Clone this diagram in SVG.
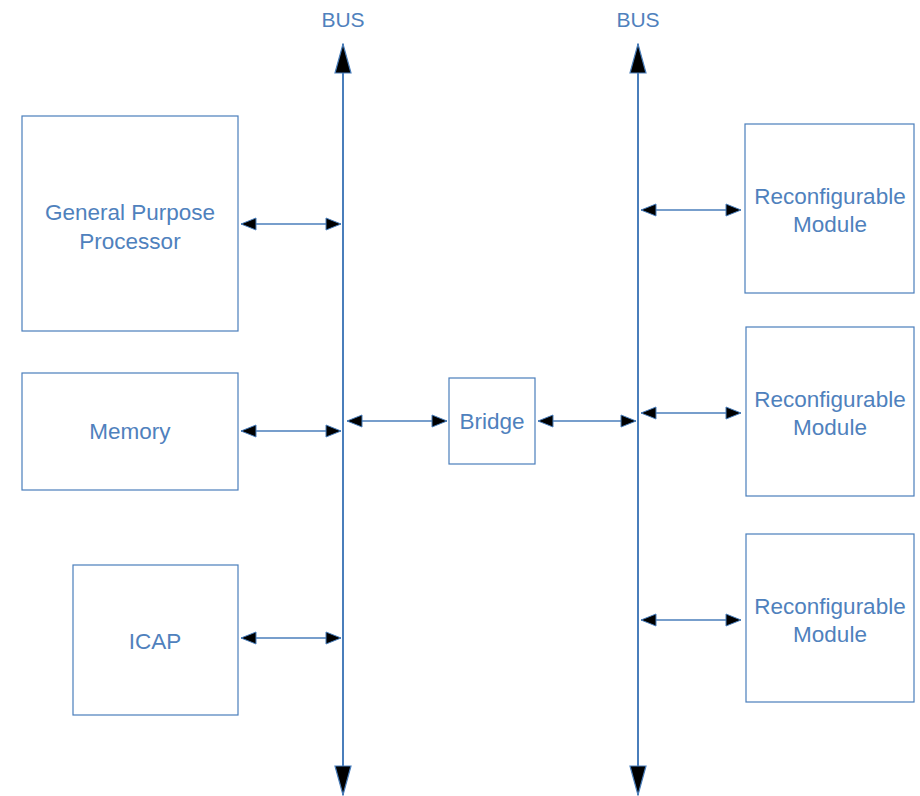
<svg xmlns="http://www.w3.org/2000/svg" width="920" height="796" viewBox="0 0 920 796">
  <style>
    .box { fill: #ffffff; stroke: #4a7ebb; stroke-width: 1.2; }
    .lbl { font-family: "Liberation Sans", Arial, sans-serif; font-size: 22.5px; fill: #4f81bd; text-anchor: middle; dominant-baseline: central; }
    .bus-lbl { font-size: 21px; }
    .bus { stroke: #4a7ebb; stroke-width: 2; fill: none; }
    .link { stroke: #4a7ebb; stroke-width: 1.5; fill: none; }
  </style>
  <defs>
    <marker id="head" viewBox="0 0 17 14" refX="16" refY="7" markerWidth="17" markerHeight="14" markerUnits="userSpaceOnUse" orient="auto-start-reverse">
      <path d="M1,1 L16,7 L1,13 Z" fill="#000000" stroke="#4a7ebb" stroke-width="1"/>
    </marker>
    <marker id="busHead" viewBox="0 0 31 18" refX="30" refY="9" markerWidth="31" markerHeight="18" markerUnits="userSpaceOnUse" orient="auto-start-reverse">
      <path d="M1,1 L30,9 L1,17 Z" fill="#000000" stroke="#4a7ebb" stroke-width="1.2"/>
    </marker>
  </defs>

  <!-- system buses -->
  <g id="buses">
    <g id="bus-left">
      <text class="lbl bus-lbl" x="343" y="19">BUS</text>
      <line class="bus" x1="343" y1="44" x2="343" y2="795" marker-start="url(#busHead)" marker-end="url(#busHead)"/>
    </g>
    <g id="bus-right">
      <text class="lbl bus-lbl" x="638" y="19">BUS</text>
      <line class="bus" x1="638" y1="44" x2="638" y2="795" marker-start="url(#busHead)" marker-end="url(#busHead)"/>
    </g>
  </g>

  <g id="gpp">
    <rect class="box" x="22" y="116" width="216" height="215"/>
    <text class="lbl" x="130" y="212">General Purpose</text>
    <text class="lbl" x="130" y="241">Processor</text>
  </g>

  <g id="memory">
    <rect class="box" x="22" y="373" width="216" height="117"/>
    <text class="lbl" x="130" y="431">Memory</text>
  </g>

  <g id="icap">
    <rect class="box" x="73" y="565" width="165" height="150"/>
    <text class="lbl" x="155" y="641">ICAP</text>
  </g>

  <g id="bridge">
    <rect class="box" x="449" y="378" width="86" height="86"/>
    <text class="lbl" x="492" y="421">Bridge</text>
  </g>

  <g id="rm1">
    <rect class="box" x="745" y="124" width="169" height="169"/>
    <text class="lbl" x="830" y="196">Reconfigurable</text>
    <text class="lbl" x="830" y="224">Module</text>
  </g>

  <g id="rm2">
    <rect class="box" x="746" y="327" width="168" height="169"/>
    <text class="lbl" x="830" y="399">Reconfigurable</text>
    <text class="lbl" x="830" y="427">Module</text>
  </g>

  <g id="rm3">
    <rect class="box" x="746" y="534" width="168" height="168"/>
    <text class="lbl" x="830" y="606">Reconfigurable</text>
    <text class="lbl" x="830" y="634">Module</text>
  </g>

  <!-- bidirectional links to the buses -->
  <g id="connectors">
    <line class="link" x1="241" y1="224" x2="341" y2="224" marker-start="url(#head)" marker-end="url(#head)"/>
    <line class="link" x1="241" y1="431" x2="341" y2="431" marker-start="url(#head)" marker-end="url(#head)"/>
    <line class="link" x1="241" y1="638" x2="341" y2="638" marker-start="url(#head)" marker-end="url(#head)"/>
    <line class="link" x1="347" y1="421" x2="447" y2="421" marker-start="url(#head)" marker-end="url(#head)"/>
    <line class="link" x1="538" y1="421" x2="636" y2="421" marker-start="url(#head)" marker-end="url(#head)"/>
    <line class="link" x1="641" y1="210" x2="741" y2="210" marker-start="url(#head)" marker-end="url(#head)"/>
    <line class="link" x1="641" y1="413" x2="741" y2="413" marker-start="url(#head)" marker-end="url(#head)"/>
    <line class="link" x1="641" y1="620" x2="741" y2="620" marker-start="url(#head)" marker-end="url(#head)"/>
  </g>
</svg>
